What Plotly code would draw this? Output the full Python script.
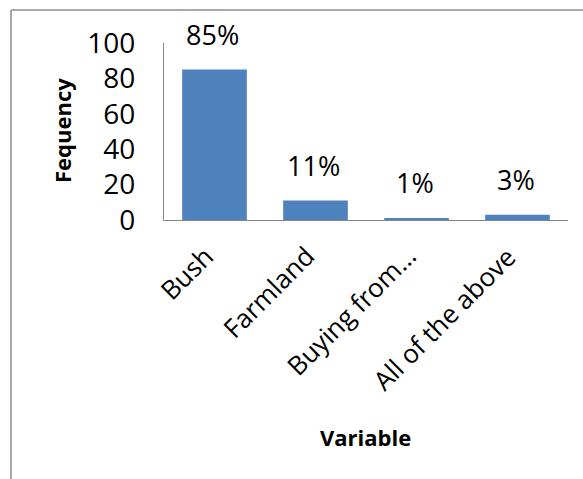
import plotly.graph_objects as go

# Survey responses: source of the item
categories = ["Bush", "Farmland", "Buying from…", "All of the above"]
frequency = [85, 11, 1, 3]
y_ticks = [0, 20, 40, 60, 80, 100]

W, H = 583, 479
L, R, T, B = 164, 15, 43, 259
PW, PH = W - L - R, H - T - B

def px_x(px):
    return (px - L) / PW

def px_y(py):
    return (H - B - py) / PH

FONT = "Open Sans"
BAR = "#4F81BD"
AXIS = "#868686"

fig = go.Figure(
    go.Bar(
        x=categories,
        y=frequency,
        marker=dict(color=BAR, line=dict(width=0)),
        hoverinfo="skip",
    )
)

# value labels above each bar
for c, v in zip(categories, frequency):
    fig.add_annotation(
        x=c, y=v, xref="x", yref="y",
        text=f"{v}%", showarrow=False,
        xanchor="center", yanchor="bottom", yshift=15, xshift=-2,
        font=dict(family=FONT, size=27, color="#000000"),
    )

# slanted category labels, right/top corner hung under each category
for c in categories:
    fig.add_annotation(
        x=c, y=px_y(236), xref="x", yref="paper",
        text=c, textangle=-45, showarrow=False,
        xanchor="right", yanchor="top", xshift=9,
        font=dict(family=FONT, size=26, color="#000000"),
    )

# axis titles
fig.add_annotation(
    x=px_x(62), y=px_y(131), xref="paper", yref="paper",
    text="<b>Fequency</b>", textangle=-90, showarrow=False,
    xanchor="center", yanchor="middle",
    font=dict(family=FONT, size=22, color="#000000"),
)
fig.add_annotation(
    x=px_x(365), y=px_y(437), xref="paper", yref="paper",
    text="<b>Variable</b>", showarrow=False,
    xanchor="center", yanchor="middle",
    font=dict(family=FONT, size=22, color="#000000"),
)

# chart frame (left and top edges)
frame = dict(color="#8C8C8C", width=1.5)
fig.add_shape(type="line", xref="paper", yref="paper",
              x0=px_x(11), y0=px_y(490), x1=px_x(11), y1=px_y(10), line=frame)
fig.add_shape(type="line", xref="paper", yref="paper",
              x0=px_x(11), y0=px_y(10), x1=px_x(600), y1=px_y(10), line=frame)

fig.update_layout(
    width=W, height=H, autosize=False,
    margin=dict(l=L, r=R, t=T, b=B, pad=0),
    paper_bgcolor="#FFFFFF", plot_bgcolor="#FFFFFF",
    bargap=0.36, showlegend=False,
    font=dict(family=FONT, color="#000000"),
)
fig.update_xaxes(
    range=[-0.5, 3.5], showgrid=False, zeroline=False,
    showline=True, linecolor=AXIS, linewidth=1.3, ticks="",
    showticklabels=False,
)
fig.update_yaxes(
    range=[0, 100], tickvals=y_ticks, showgrid=False, zeroline=False,
    showline=True, linecolor=AXIS, linewidth=1.3, ticks="",
    ticklabelstandoff=22,
    tickfont=dict(family=FONT, size=28, color="#000000"),
)

fig.write_html("out.html")
